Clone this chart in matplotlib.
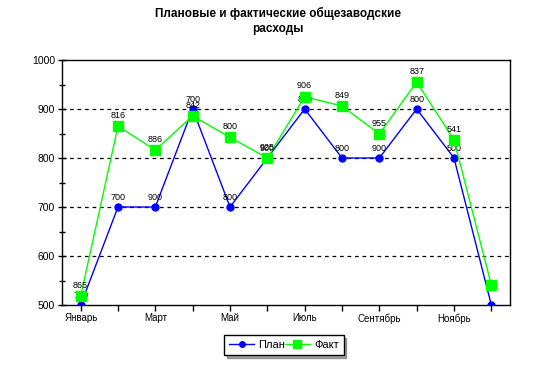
import matplotlib
matplotlib.use("Agg")
import matplotlib.pyplot as plt
from matplotlib.ticker import MultipleLocator

plt.rcParams['font.family'] = ['Liberation Sans', 'DejaVu Sans']

months = ["Январь", "Февраль", "Март", "Апрель", "Май", "Июнь",
          "Июль", "Август", "Сентябрь", "Октябрь", "Ноябрь", "Декабрь"]
plan = [500, 700, 700, 900, 700, 800, 900, 800, 800, 900, 800, 500]
fact = [518, 865, 816, 886, 842, 800, 925, 906, 849, 955, 837, 541]
plan_labels = ["700", "700", "900", "700", "800", "900", "800", "800", "900", "800", "500", ""]
fact_labels = ["865", "816", "886", "842", "800", "925", "906", "849", "955", "837", "541", ""]

fig = plt.figure(figsize=(5.4, 3.65), dpi=100)
ax = fig.add_axes([62/540, 1 - 305/365, 448/540, 245/365])

x = list(range(len(months)))
ax.set_xlim(-0.5, 11.5)
ax.set_ylim(500, 1000)

for yv in [600, 700, 800, 900]:
    ax.axhline(yv, color='black', lw=0.9, ls=(0, (3, 3)), zorder=1)

ax.plot(x, plan, color='#0000FF', lw=1, marker='o', ms=5, mec='#0000FF',
        mfc='#0000FF', zorder=3, label='План')
for xi, yi, t in zip(x, plan, plan_labels):
    ax.annotate(t, (xi, yi), xytext=(0, 3.5), textcoords='offset points',
                ha='center', va='bottom', fontsize=6.5, zorder=4)
ax.plot(x, fact, color='#00FF00', lw=1, marker='s', ms=7, mec='#00FF00',
        mfc='#00FF00', zorder=5, label='Факт')
for xi, yi, t in zip(x, fact, fact_labels):
    ax.annotate(t, (xi, yi), xytext=(0, 4.5), textcoords='offset points',
                ha='center', va='bottom', fontsize=6.5, zorder=6)

ax.set_xticks(x)
ax.set_xticklabels([m if i % 2 == 0 else "" for i, m in enumerate(months)], fontsize=7)
ax.tick_params(axis='x', direction='out', length=4, width=1, pad=2)
ax.yaxis.set_major_locator(MultipleLocator(100))
ax.yaxis.set_minor_locator(MultipleLocator(50))
ax.tick_params(axis='y', which='both', direction='inout', length=6, width=1, labelsize=7.5, pad=2)
ax.tick_params(axis='y', which='minor', length=4)
for s in ax.spines.values():
    s.set_linewidth(1)

fig.text(278/540, 1 - 21/365, "Плановые и фактические общезаводские\nрасходы",
         ha='center', va='center', fontsize=8.5, fontweight='bold', linespacing=1.25)

leg = ax.legend(loc='center', bbox_to_anchor=(284/540, 1 - 345/365),
                bbox_transform=fig.transFigure, ncol=2, fontsize=8,
                frameon=True, fancybox=False, shadow=True, handlelength=2.2,
                columnspacing=0.0, handletextpad=0.4, borderpad=0.45, markerscale=0.8)
leg.get_frame().set_edgecolor('black')
leg.get_frame().set_linewidth(1)

fig.savefig("out.png", dpi=100)
